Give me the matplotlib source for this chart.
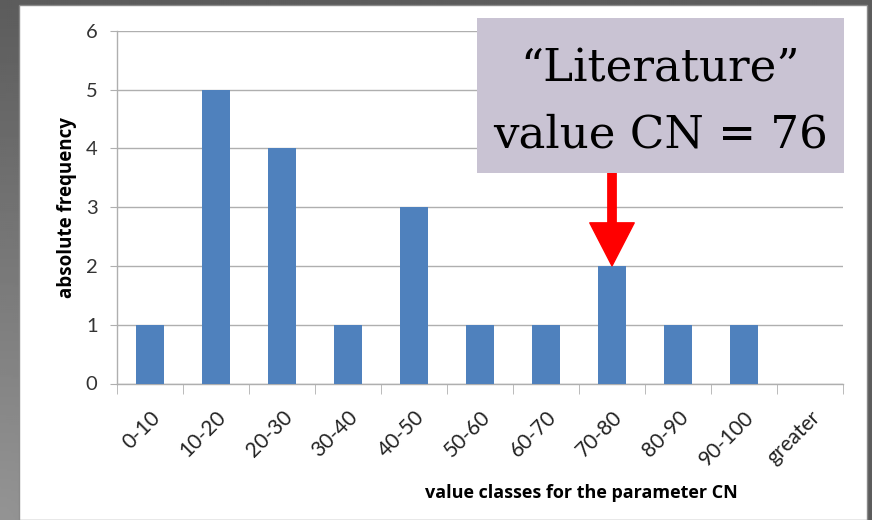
import numpy as np
import matplotlib
matplotlib.use('Agg')
import matplotlib.pyplot as plt
from matplotlib.patches import Rectangle

categories = ['0-10', '10-20', '20-30', '30-40', '40-50', '50-60',
              '60-70', '70-80', '80-90', '90-100', 'greater']
counts = [1, 5, 4, 1, 3, 1, 1, 2, 1, 1, 0]
y_ticks = [0, 1, 2, 3, 4, 5, 6]
literature_class = '70-80'
note_lines = ['\u201cLiterature\u201d', 'value CN = 76']

bar_color = '#4F81BD'
grid_color = '#AFAFAF'

fig = plt.figure(figsize=(8.72, 5.20), dpi=100)

# dark slide background with a soft light patch at lower left
bg = fig.add_axes([0, 0, 1, 1], zorder=-10)
yy, xx = np.mgrid[0:1:260j, 0:1:436j]
shade = 0.36 + 0.22 * np.clip(1 - np.hypot(xx * 1.6, (1 - yy) * 1.0), 0, 1)
bg.imshow(shade, cmap='gray', vmin=0, vmax=1, extent=[0, 1, 0, 1],
          aspect='auto', origin='upper')
bg.add_patch(Rectangle((19 / 872, 0), (867 - 19) / 872, (520 - 5) / 520,
                       facecolor='white', edgecolor='#8a8a8a', lw=1.0))
bg.set_xlim(0, 1)
bg.set_ylim(0, 1)
bg.axis('off')

ax = fig.add_axes([117 / 872, 136.5 / 520, 726 / 872, 352.8 / 520])
x = np.arange(len(categories))
ax.bar(x, counts, width=0.41, color=bar_color, zorder=3)

ax.set_xlim(-0.5, len(categories) - 0.5)
ax.set_ylim(0, 6)
ax.set_yticks(y_ticks)
ax.set_yticklabels([str(v) for v in y_ticks], fontsize=14.5, family='Lato',
                   color='#333333')
ax.yaxis.grid(True, color=grid_color, lw=1.0, zorder=0)
ax.set_xticks(x)
ax.set_xticklabels(categories, rotation=45, ha='right', va='top',
                   rotation_mode='anchor', fontsize=15, family='Lato',
                   color='#222222')
ax.set_xticks(np.arange(len(categories) + 1) - 0.5, minor=True)
ax.tick_params(axis='x', which='major', length=0, pad=17)
ax.tick_params(axis='x', which='minor', length=7, color=grid_color,
               direction='out')
ax.tick_params(axis='y', length=5, color=grid_color, pad=9)

for side in ['top', 'right']:
    ax.spines[side].set_visible(False)
for side in ['left', 'bottom']:
    ax.spines[side].set_color(grid_color)
    ax.spines[side].set_linewidth(1.0)

ax.set_ylabel('absolute frequency', fontsize=13.5, fontweight='bold',
              family='Open Sans')
ax.yaxis.set_label_coords(-0.055, 0.5)
ax.set_xlabel('value classes for the parameter CN', fontsize=13,
              fontweight='bold', family='Open Sans')
ax.xaxis.set_label_coords(0.64, -0.285)

# note box and arrow
fig.patches.append(Rectangle((477 / 872, (520 - 173) / 520), 367 / 872,
                             155 / 520, transform=fig.transFigure,
                             facecolor='#C9C3D3', edgecolor='none',
                             zorder=5))
fig.text(660.5 / 872, (520 - 82) / 520, note_lines[0], ha='center',
         va='baseline', fontsize=32.5, family='DejaVu Serif', zorder=6)
fig.text(660.5 / 872, (520 - 148) / 520, note_lines[1], ha='center',
         va='baseline', fontsize=32.5, family='DejaVu Serif', zorder=6)

xi = categories.index(literature_class)
ax.annotate('', xy=(xi, counts[xi]), xytext=(xi, 3.66),
            arrowprops=dict(arrowstyle='simple,head_length=31,head_width=32,tail_width=6',
                            mutation_scale=1, color='#FF0000',
                            shrinkA=0, shrinkB=0),
            zorder=6, annotation_clip=False)

fig.savefig('out.png', dpi=100)
